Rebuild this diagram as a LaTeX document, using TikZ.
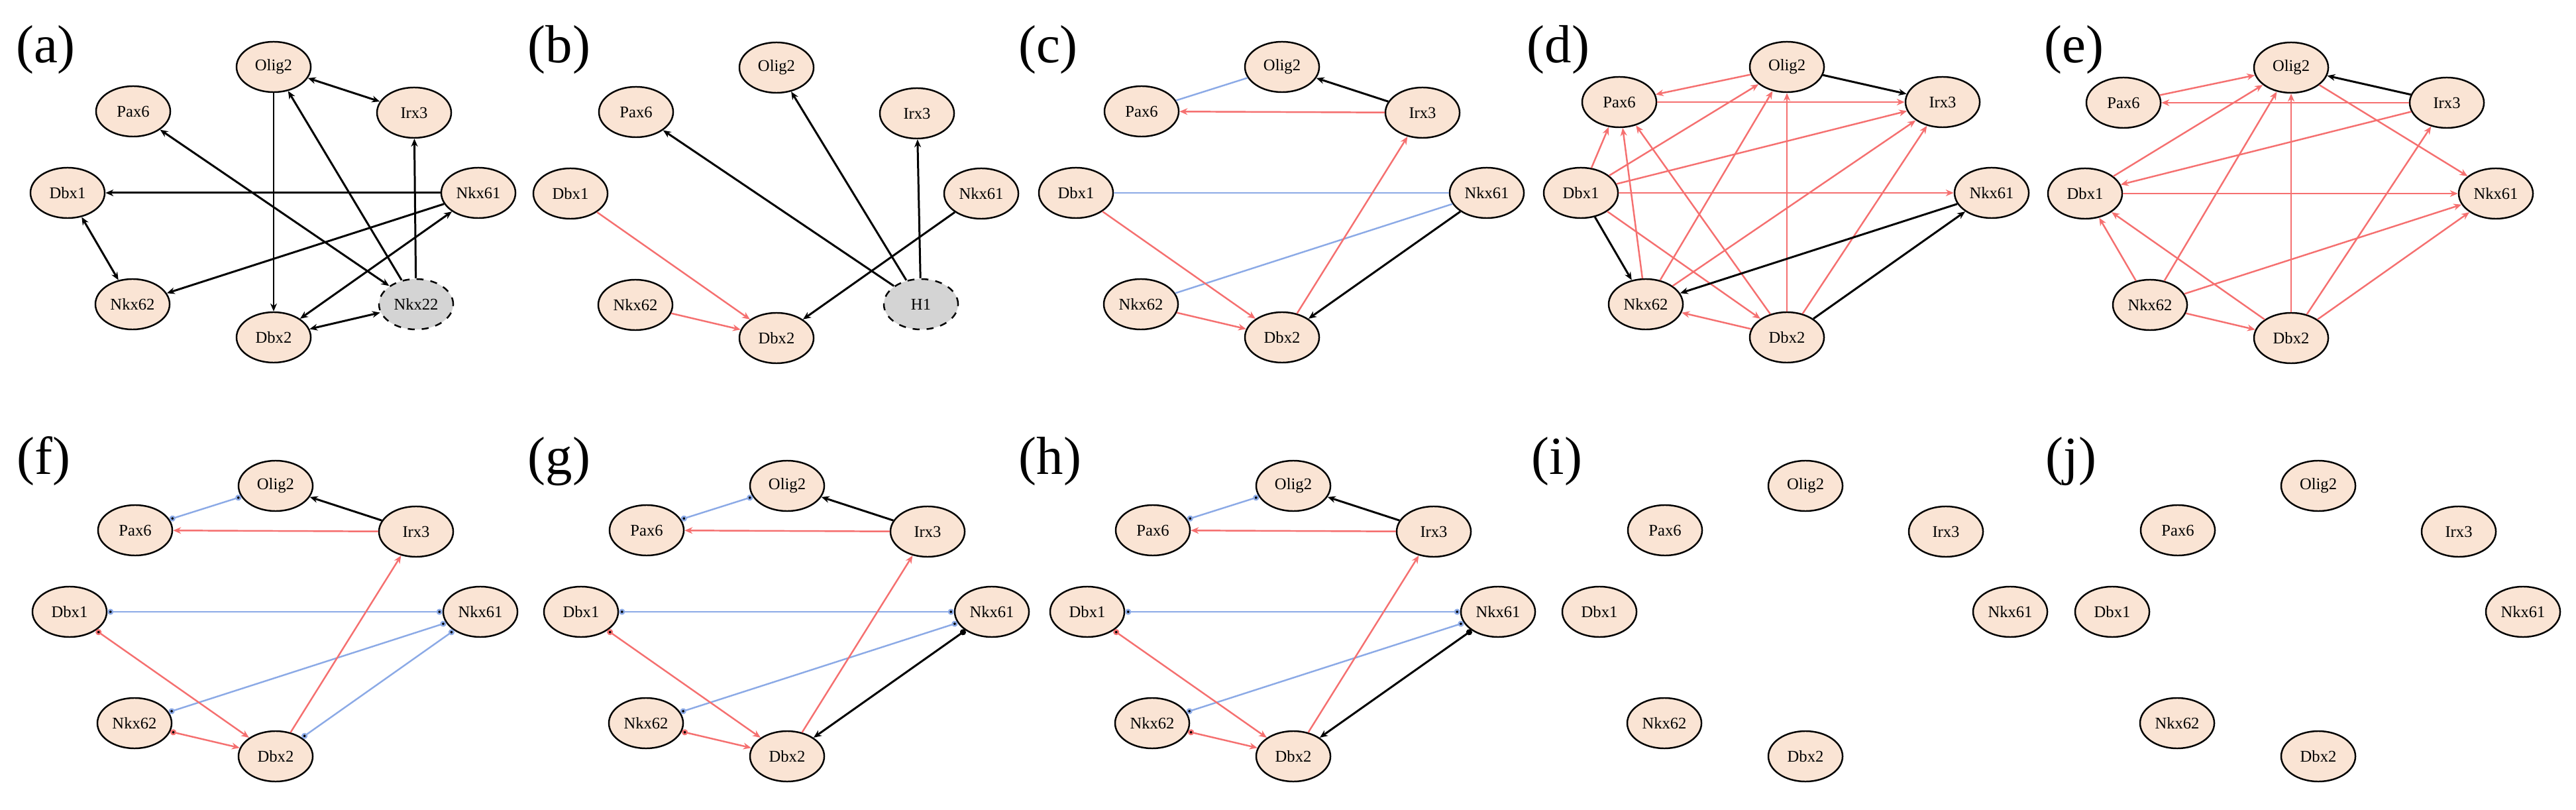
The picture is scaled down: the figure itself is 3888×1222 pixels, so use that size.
\documentclass[tikz,border=0pt]{standalone}
\usepackage{fontspec}
\setmainfont{Liberation Serif}
\usepackage{tikz}
\usetikzlibrary{shapes.geometric,arrows.meta}
\definecolor{genefill}{RGB}{250,228,212}
\definecolor{hidfill}{RGB}{212,212,212}
\definecolor{edgered}{RGB}{245,112,112}
\definecolor{edgeblue}{RGB}{140,170,230}
\tikzset{
  gene node/.style={ellipse, draw, line width=0.7pt, fill=genefill, minimum width=1.12cm,
    minimum height=0.76cm, inner sep=0pt, font=\fontsize{7}{8}\selectfont},
  hidden node/.style={gene node, fill=hidfill, dashed},
  panel label/.style={font=\fontsize{23}{25}\selectfont},
  blk/.style={draw=black, line width=0.85pt},
  red/.style={draw=edgered, line width=0.7pt},
  blu/.style={draw=edgeblue, line width=0.7pt},
  dots/.style={{Circle[length=0.9mm]}-{Circle[length=0.9mm]}},
  odir/.style={{Circle[length=0.9mm]}-{Stealth[length=1.2mm,width=1mm]}},
}
% genes of one panel: prefix, Olig2 position, Pax6 and Irx3 offsets
\newcommand{\genes}[7]{%
  \begin{scope}[shift={(#2,#3)}]
    \node[gene node] (#1Olig2) at (0,0) {Olig2};
    \node[gene node] (#1Pax6) at (#4,#5) {Pax6};
    \node[gene node] (#1Irx3) at (#6,#7) {Irx3};
    \node[gene node] (#1Dbx1) at (-311,190) {Dbx1};
    \node[gene node] (#1Nkx61) at (309,190) {Nkx61};
    \node[gene node] (#1Nkx62) at (-213,358) {Nkx62};
    \node[gene node] (#1Dbx2) at (0,408) {Dbx2};
  \end{scope}}
\begin{document}
\begin{tikzpicture}[x=0.01cm, y=-0.01cm, >={Stealth[length=1.2mm,width=1mm]}]
  \useasboundingbox (0,0) rectangle (3888,1222);
  % Panel labels
  \node[panel label] (la) at (69,75) {(a)};
  \node[panel label] (lb) at (844,75) {(b)};
  \node[panel label] (lc) at (1582,75) {(c)};
  \node[panel label] (ld) at (2352,75) {(d)};
  \node[panel label] (le) at (3130,75) {(e)};
  \node[panel label] (lf) at (66,696) {(f)};
  \node[panel label] (lg) at (844,696) {(g)};
  \node[panel label] (lh) at (1585,696) {(h)};
  \node[panel label] (li) at (2350,696) {(i)};
  \node[panel label] (lj) at (3126,696) {(j)};
  % Nodes
  \genes{a}{413}{101}{-212}{67}{212}{69}
  \node[hidden node] (aNkx22) at (628,459) {Nkx22};
  \genes{b}{1172}{102}{-212}{67}{212}{69}
  \node[hidden node] (bH1) at (1390,459) {H1};
  \genes{c}{1935}{101}{-212}{67}{212}{69}
  \genes{d}{2697}{101}{-253}{53}{235}{53}
  \genes{e}{3458}{102}{-253}{53}{235}{53}
  \genes{f}{416}{733}{-212}{67}{212}{69}
  \genes{g}{1188}{733}{-212}{67}{212}{69}
  \genes{h}{1952}{733}{-212}{67}{212}{69}
  \genes{i}{2725}{733}{-212}{67}{212}{69}
  \genes{j}{3499}{733}{-212}{67}{212}{69}
  % Paths (a)
  \path[blk]
  (aOlig2) edge[<->] (aIrx3)
  (aOlig2) edge[->, line width=0.5pt] (aDbx2)
  (aNkx22) edge[->] (aOlig2)
  (aNkx22) edge[->] (aIrx3)
  (aPax6) edge[<->] (aNkx22)
  (aNkx61) edge[->] (aDbx1)
  (aNkx61) edge[->] (aNkx62)
  (aDbx2) edge[<->] (aNkx61)
  (aDbx1) edge[<->] (aNkx62)
  (aDbx2) edge[<->] (aNkx22);
  % Paths (b)
  \path[red]
  (bDbx1) edge[->] (bDbx2)
  (bNkx62) edge[->] (bDbx2);
  \path[blk]
  (bH1) edge[->] (bPax6)
  (bH1) edge[->] (bOlig2)
  (bH1) edge[->] (bIrx3)
  (bNkx61) edge[->] (bDbx2);
  % Paths (c)
  \path[blu]
  (cOlig2) edge (cPax6)
  (cDbx1) edge (cNkx61)
  (cNkx61) edge (cNkx62);
  \path[blk]
  (cIrx3) edge[->] (cOlig2)
  (cNkx61) edge[->] (cDbx2);
  \path[red]
  (cIrx3) edge[->] (cPax6)
  (cDbx1) edge[->] (cDbx2)
  (cNkx62) edge[->] (cDbx2)
  (cDbx2) edge[->] (cIrx3);
  % Paths (d)
  \path[red]
  (dOlig2) edge[->] (dPax6)
  (dPax6) edge[->] (dIrx3)
  (dDbx1) edge[->] (dOlig2)
  (dDbx1) edge[->] (dPax6)
  (dDbx1) edge[->] (dIrx3)
  (dDbx1) edge[->] (dNkx61)
  (dDbx1) edge[->] (dDbx2)
  (dNkx62) edge[->] (dPax6)
  (dNkx62) edge[->] (dOlig2)
  (dNkx62) edge[->] (dIrx3)
  (dDbx2) edge[->] (dPax6)
  (dDbx2) edge[->] (dOlig2)
  (dDbx2) edge[->] (dIrx3)
  (dDbx2) edge[->] (dNkx62);
  \path[blk]
  (dOlig2) edge[->] (dIrx3)
  (dDbx1) edge[->] (dNkx62)
  (dDbx2) edge[->] (dNkx61)
  (dNkx61) edge[->] (dNkx62);
  % Paths (e)
  \path[red]
  (ePax6) edge[->] (eOlig2)
  (eIrx3) edge[->] (ePax6)
  (eDbx1) edge[->] (eOlig2)
  (eIrx3) edge[->] (eDbx1)
  (eOlig2) edge[->] (eNkx61)
  (eDbx1) edge[->] (eNkx61)
  (eNkx62) edge[->] (eOlig2)
  (eDbx2) edge[->] (eOlig2)
  (eDbx2) edge[->] (eIrx3)
  (eNkx62) edge[->] (eDbx1)
  (eDbx2) edge[->] (eDbx1)
  (eNkx62) edge[->] (eNkx61)
  (eNkx62) edge[->] (eDbx2)
  (eDbx2) edge[->] (eNkx61);
  \path[blk] (eIrx3) edge[->] (eOlig2);
  % Paths (f)
  \path[blu]
  (fOlig2) edge[dots] (fPax6)
  (fDbx1) edge[dots] (fNkx61)
  (fNkx61) edge[dots] (fNkx62)
  (fNkx61) edge[dots] (fDbx2);
  \path[blk] (fIrx3) edge[->] (fOlig2);
  \path[red]
  (fIrx3) edge[->] (fPax6)
  (fDbx1) edge[odir] (fDbx2)
  (fNkx62) edge[odir] (fDbx2)
  (fDbx2) edge[->] (fIrx3);
  % Paths (g) and (h)
  \foreach \p in {g,h}{
    \path[blu]
    (\p Olig2) edge[dots] (\p Pax6)
    (\p Dbx1) edge[dots] (\p Nkx61)
    (\p Nkx61) edge[dots] (\p Nkx62);
    \path[blk]
    (\p Irx3) edge[->] (\p Olig2)
    (\p Nkx61) edge[odir] (\p Dbx2);
    \path[red]
    (\p Irx3) edge[->] (\p Pax6)
    (\p Dbx1) edge[odir] (\p Dbx2)
    (\p Nkx62) edge[odir] (\p Dbx2)
    (\p Dbx2) edge[->] (\p Irx3);
  }
\end{tikzpicture}
\end{document}
